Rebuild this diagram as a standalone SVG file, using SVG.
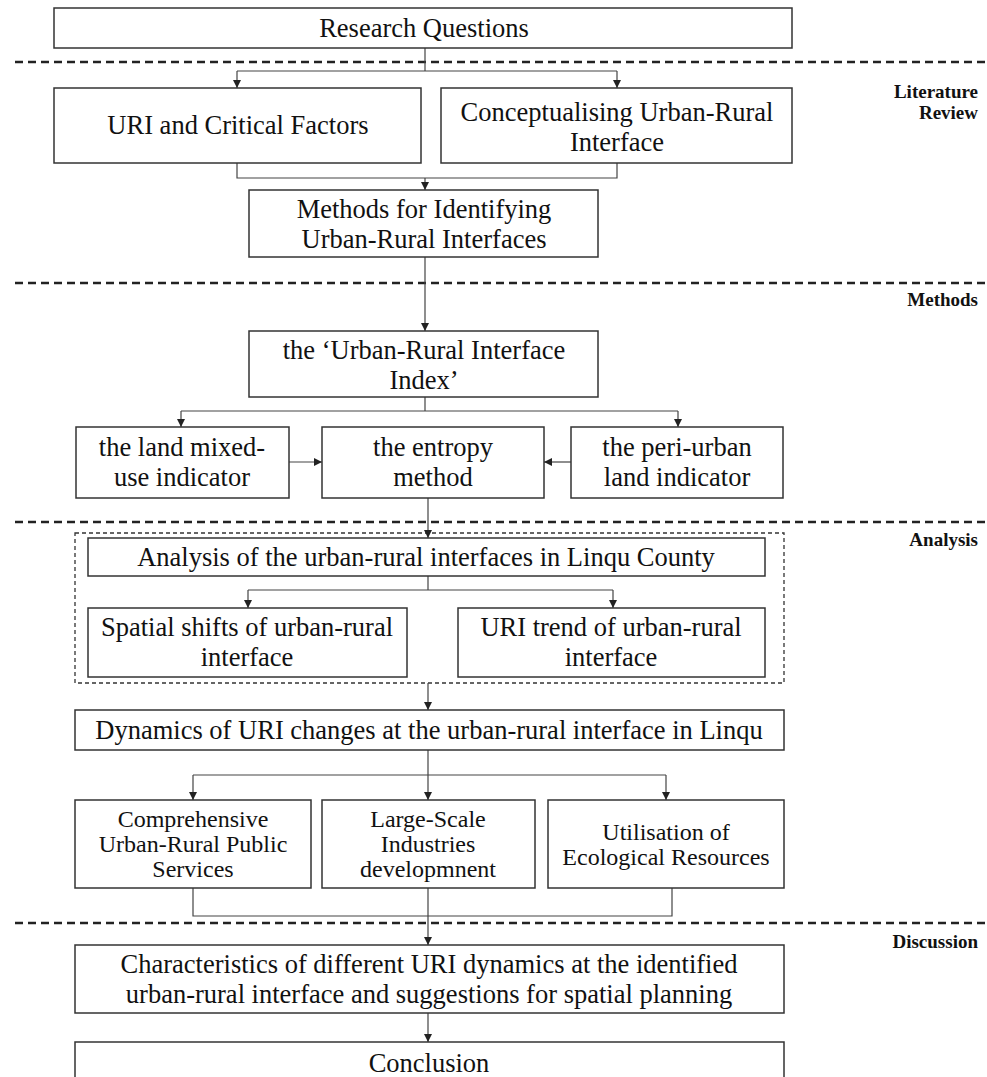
<svg xmlns="http://www.w3.org/2000/svg" width="987" height="1077" viewBox="0 0 987 1077">
<defs>
<marker id="ah" viewBox="0 0 10 10" refX="10" refY="5" markerWidth="8" markerHeight="8" markerUnits="userSpaceOnUse" orient="auto">
<path d="M0,0 L10,5 L0,10 z" fill="#222"/>
</marker>
<style>
.box{fill:#fff;stroke:#333;stroke-width:1.5}
.t{font-family:"Liberation Serif","Times New Roman",serif;font-size:26.5px;fill:#111;text-anchor:middle}
.s{font-family:"Liberation Serif","Times New Roman",serif;font-size:24px;fill:#111;text-anchor:middle}
.lab{font-family:"Liberation Serif","Times New Roman",serif;font-size:19px;font-weight:bold;fill:#111;text-anchor:end}
.sep{stroke:#222;stroke-width:2.5;stroke-dasharray:8 5;fill:none}
.c{stroke:#444;stroke-width:1.2;fill:none}
.ca{stroke:#444;stroke-width:1.2;fill:none;marker-end:url(#ah)}
</style>
</defs>
<rect width="987" height="1077" fill="#fff"/>

<g id="separators">
<line class="sep" x1="15" y1="62" x2="987" y2="62"/>
<line class="sep" x1="15" y1="283" x2="987" y2="283"/>
<line class="sep" x1="15" y1="522" x2="987" y2="522"/>
<line class="sep" x1="15" y1="923" x2="987" y2="923"/>
<rect x="75" y="533" width="709" height="150" fill="none" stroke="#333" stroke-width="1.3" stroke-dasharray="4 3"/>
</g>

<g id="section-labels">
<text class="lab" x="978" y="98">Literature</text>
<text class="lab" x="978" y="119">Review</text>
<text class="lab" x="978" y="306">Methods</text>
<text class="lab" x="978" y="546">Analysis</text>
<text class="lab" x="978" y="948">Discussion</text>
</g>

<g id="connectors">
<path class="c" d="M425,48 V71"/>
<path class="c" d="M237,71 H617"/>
<path class="ca" d="M237,71 V88"/>
<path class="ca" d="M617,71 V88"/>
<path class="c" d="M237,163 V178 H617 V163"/>
<path class="ca" d="M425,178 V190"/>
<path class="ca" d="M425,257 V331"/>
<path class="c" d="M425,397 V411"/>
<path class="c" d="M181,411 H678"/>
<path class="ca" d="M181,411 V427"/>
<path class="ca" d="M678,411 V427"/>
<path class="ca" d="M289,462 H322"/>
<path class="ca" d="M571,462 H544"/>
<path class="ca" d="M428,498 V538"/>
<path class="c" d="M428,576 V590"/>
<path class="c" d="M248,590 H613"/>
<path class="ca" d="M248,590 V608"/>
<path class="ca" d="M613,590 V608"/>
<path class="ca" d="M428,683 V710"/>
<path class="c" d="M428,750 V775"/>
<path class="c" d="M193,775 H666"/>
<path class="ca" d="M193,775 V800"/>
<path class="ca" d="M428,775 V800"/>
<path class="ca" d="M666,775 V800"/>
<path class="c" d="M193,888 V916 H672 V888"/>
<path class="ca" d="M428,888 V945"/>
<path class="ca" d="M428,1013 V1042"/>
</g>

<g id="n-research">
<rect class="box" x="54" y="8" width="738" height="40"/>
<text class="t" x="424" y="37">Research Questions</text>
</g>
<g id="n-uri-factors">
<rect class="box" x="54" y="88" width="367" height="75"/>
<text class="t" x="238" y="134">URI and Critical Factors</text>
</g>
<g id="n-conceptualising">
<rect class="box" x="441" y="88" width="351" height="75"/>
<text class="t" x="617" y="121">Conceptualising Urban-Rural</text>
<text class="t" x="617" y="151">Interface</text>
</g>
<g id="n-methods-identifying">
<rect class="box" x="249" y="190" width="349" height="67"/>
<text class="t" x="424" y="218">Methods for Identifying</text>
<text class="t" x="424" y="248">Urban-Rural Interfaces</text>
</g>
<g id="n-uri-index">
<rect class="box" x="249" y="331" width="349" height="66"/>
<text class="t" x="424" y="359">the ‘Urban-Rural Interface</text>
<text class="t" x="424" y="389">Index’</text>
</g>
<g id="n-mixed-use">
<rect class="box" x="76" y="427" width="213" height="71"/>
<text class="t" x="182" y="456">the land mixed-</text>
<text class="t" x="182" y="486">use indicator</text>
</g>
<g id="n-entropy">
<rect class="box" x="322" y="427" width="222" height="71"/>
<text class="t" x="433" y="456">the entropy</text>
<text class="t" x="433" y="486">method</text>
</g>
<g id="n-peri-urban">
<rect class="box" x="571" y="427" width="212" height="71"/>
<text class="t" x="677" y="456">the peri-urban</text>
<text class="t" x="677" y="486">land indicator</text>
</g>
<g id="n-analysis">
<rect class="box" x="88" y="538" width="677" height="38"/>
<text class="t" x="426" y="566">Analysis of the urban-rural interfaces in Linqu County</text>
</g>
<g id="n-spatial">
<rect class="box" x="88" y="608" width="319" height="69"/>
<text class="t" x="247" y="636">Spatial shifts of urban-rural</text>
<text class="t" x="247" y="666">interface</text>
</g>
<g id="n-trend">
<rect class="box" x="458" y="608" width="307" height="69"/>
<text class="t" x="611" y="636">URI trend of urban-rural</text>
<text class="t" x="611" y="666">interface</text>
</g>
<g id="n-dynamics">
<rect class="box" x="75" y="710" width="709" height="40"/>
<text class="t" x="429" y="739">Dynamics of URI changes at the urban-rural interface in Linqu</text>
</g>
<g id="n-public-services">
<rect class="box" x="75" y="800" width="236" height="88"/>
<text class="s" x="193" y="827">Comprehensive</text>
<text class="s" x="193" y="852">Urban-Rural Public</text>
<text class="s" x="193" y="877">Services</text>
</g>
<g id="n-industries">
<rect class="box" x="322" y="800" width="213" height="88"/>
<text class="s" x="428" y="827">Large-Scale</text>
<text class="s" x="428" y="852">Industries</text>
<text class="s" x="428" y="877">developmnent</text>
</g>
<g id="n-ecological">
<rect class="box" x="548" y="800" width="236" height="88"/>
<text class="s" x="666" y="840">Utilisation of</text>
<text class="s" x="666" y="865">Ecological Resources</text>
</g>
<g id="n-characteristics">
<rect class="box" x="75" y="945" width="709" height="68"/>
<text class="t" x="429" y="973">Characteristics of different URI dynamics at the identified</text>
<text class="t" x="429" y="1003">urban-rural interface and suggestions for spatial planning</text>
</g>
<g id="n-conclusion">
<rect class="box" x="75" y="1042" width="709" height="45"/>
<text class="t" x="429" y="1072">Conclusion</text>
</g>
</svg>
